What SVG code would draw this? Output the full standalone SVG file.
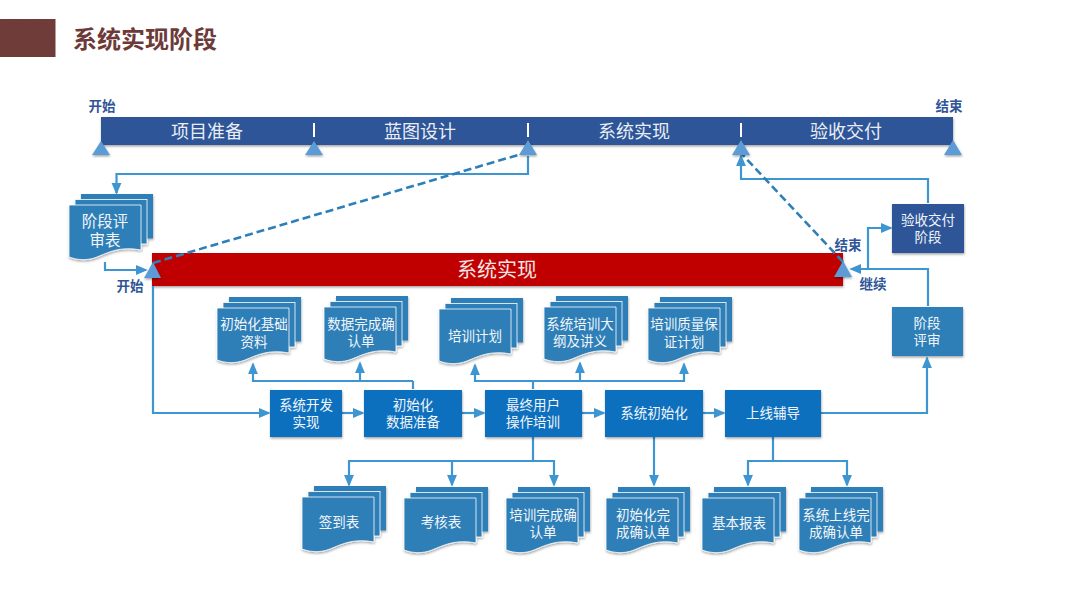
<svg xmlns="http://www.w3.org/2000/svg" xmlns:xlink="http://www.w3.org/1999/xlink" width="1080" height="608" viewBox="0 0 1080 608">
<style>
text{font-family:"Liberation Sans","Noto Sans CJK SC",sans-serif;text-anchor:middle}
.w{fill:#f2f6fa;font-size:13.5px}
.b{fill:#2f5597;font-size:13.5px;font-weight:bold}
.h{fill:#e9eef6;font-size:18px}
.c{fill:none;stroke:#3d95d2;stroke-width:2.2}
.a{fill:none;stroke:#3d95d2;stroke-width:2.2;marker-end:url(#ah)}
.d{fill:none;stroke:#2e7fb8;stroke-width:2.6;stroke-dasharray:8 4}
.t{fill:#5b9bd5;filter:url(#s)}
.box{fill:#0870bf;filter:url(#s)}
</style>
<defs>
<filter id="s" x="-10%" y="-10%" width="125%" height="130%"><feDropShadow dx="0.5" dy="1.5" stdDeviation="1.2" flood-color="#000" flood-opacity="0.35"/></filter>
<marker id="ah" markerWidth="5.500" markerHeight="5" refX="4.700" refY="2.500" orient="auto" markerUnits="strokeWidth" viewBox="0 0 5.500 5"><path d="M0 0.200L5.500 2.500L0 4.800Z" fill="#3d95d2"/></marker>
<pattern id="hatch" width="3" height="3" patternUnits="userSpaceOnUse"><rect width="3" height="3" fill="#6d3a38"/><path d="M0 3L3 0" stroke="#74423f" stroke-width="0.8"/></pattern>
<g id="doc" filter="url(#s)">
<rect x="12" y="0" width="72" height="44.500" fill="#2e7fb8"/>
<rect x="6" y="5.500" width="72" height="44.500" fill="#2e7fb8" stroke="#fff" stroke-width="0.8"/>
<path d="M0 11H72V56C52 52 40 58 28 63C18 67 8 66 0 63Z" fill="#2e7fb8" stroke="#fff" stroke-width="0.8"/>
</g>
</defs>
<rect width="1080" height="608" fill="#fff"/>
<g id="title">
<rect x="0" y="19" width="55.500" height="38" fill="url(#hatch)"/>
<text x="145" y="47.500" style="font-size:24px;font-weight:bold;fill:#6d3a38">系统实现阶段</text>
</g>
<g id="timeline">
<rect x="101" y="117" width="852" height="28" fill="#2f5597" filter="url(#s)"/>
<path d="M314 123V137M528 123V137M741 123V137" stroke="#fff" stroke-width="2"/>
<text class="h" x="207" y="138">项目准备</text>
<text class="h" x="420" y="138">蓝图设计</text>
<text class="h" x="634" y="138">系统实现</text>
<text class="h" x="846" y="138">验收交付</text>
<text class="b" x="102" y="111">开始</text>
<text class="b" x="949" y="111">结束</text>
</g>
<g id="bar">
<rect x="152" y="253" width="691" height="33" fill="#c00000" filter="url(#s)"/>
<text x="497" y="276.500" style="font-size:20px;fill:#f4e6e6">系统实现</text>
<text class="b" x="130" y="291">开始</text>
<text class="b" x="848" y="250">结束</text>
<text class="b" x="873" y="289">继续</text>
</g>
<g id="connectors">
<path class="a" d="M528 156V174H116.500V193"/>
<path class="a" d="M105 262V270H146"/>
<path class="a" d="M153 286V413H269"/>
<path class="a" d="M342 413H363"/>
<path class="a" d="M462 413H484"/>
<path class="a" d="M582 413H604"/>
<path class="a" d="M703 413H724"/>
<path class="a" d="M821 413H927V358"/>
<path class="c" d="M413 389V381"/>
<path class="a" d="M413 381H253V364"/>
<path class="a" d="M360 381V363"/>
<path class="c" d="M533 389V381"/>
<path class="a" d="M533 381H475V365"/>
<path class="a" d="M580 381V363"/>
<path class="a" d="M533 381H684V364"/>
<path class="c" d="M533 437V461"/>
<path class="a" d="M533 461H349V485"/>
<path class="a" d="M452 461V485"/>
<path class="a" d="M533 461H554V485"/>
<path class="a" d="M654 437V485"/>
<path class="c" d="M773 437V461"/>
<path class="a" d="M773 461H748V485"/>
<path class="a" d="M773 461H847V485"/>
<path class="a" d="M928 306V269H851"/>
<path class="a" d="M868 269V228H891"/>
<path class="a" d="M928 203V179H741V156"/>
<path class="d" d="M153 263L528 152"/>
<path class="d" d="M843 262L741 153"/>
</g>
<g id="triangles">
<path class="t" d="M101 141L110 155H92Z"/>
<path class="t" d="M314 141L323 155H305Z"/>
<path class="t" d="M528 140L537 155H519Z"/>
<path class="t" d="M741 140L750 155H732Z"/>
<path class="t" d="M953 140L962 155H944Z"/>
<path class="t" d="M153 262L161 278H144Z"/>
<path class="t" d="M843 261L852 277H834Z"/>
</g>
<g id="n-review-form"><use xlink:href="#doc" href="#doc" x="69" y="194"/><text class="w" x="105" y="227" style="font-size:15.500px">阶段评</text><text class="w" x="105" y="246" style="font-size:15.500px">审表</text></g>
<g id="n-accept"><rect x="892" y="204" width="72" height="49" fill="#2f5597" filter="url(#s)"/><text class="w" x="928" y="225">验收交付</text><text class="w" x="928" y="242">阶段</text></g>
<g id="n-review"><rect x="892" y="307" width="71" height="49" fill="#2e7fb8" filter="url(#s)"/><text class="w" x="927" y="328">阶段</text><text class="w" x="927" y="345">评审</text></g>
<g id="d1"><use xlink:href="#doc" href="#doc" x="217" y="297"/><text class="w" x="254" y="329">初始化基础</text><text class="w" x="254" y="347">资料</text></g>
<g id="d2"><use xlink:href="#doc" href="#doc" x="324" y="296"/><text class="w" x="361" y="329">数据完成确</text><text class="w" x="361" y="346">认单</text></g>
<g id="d3"><use xlink:href="#doc" href="#doc" x="439" y="298"/><text class="w" x="475" y="341">培训计划</text></g>
<g id="d4"><use xlink:href="#doc" href="#doc" x="544" y="296"/><text class="w" x="580" y="329">系统培训大</text><text class="w" x="580" y="346">纲及讲义</text></g>
<g id="d5"><use xlink:href="#doc" href="#doc" x="648" y="297"/><text class="w" x="684" y="329">培训质量保</text><text class="w" x="684" y="347">证计划</text></g>
<g id="p1"><rect class="box" x="270" y="390" width="72" height="47"/><text class="w" x="306" y="410">系统开发</text><text class="w" x="306" y="427">实现</text></g>
<g id="p2"><rect class="box" x="364" y="390" width="98" height="47"/><text class="w" x="413" y="410">初始化</text><text class="w" x="413" y="427">数据准备</text></g>
<g id="p3"><rect class="box" x="485" y="390" width="97" height="47"/><text class="w" x="533" y="410">最终用户</text><text class="w" x="533" y="427">操作培训</text></g>
<g id="p4"><rect class="box" x="605" y="390" width="98" height="47"/><text class="w" x="654" y="418">系统初始化</text></g>
<g id="p5"><rect class="box" x="725" y="390" width="96" height="47"/><text class="w" x="773" y="418">上线辅导</text></g>
<g id="d6"><use xlink:href="#doc" href="#doc" x="302" y="486"/><text class="w" x="339" y="527">签到表</text></g>
<g id="d7"><use xlink:href="#doc" href="#doc" x="404" y="487"/><text class="w" x="441" y="527">考核表</text></g>
<g id="d8"><use xlink:href="#doc" href="#doc" x="506" y="487"/><text class="w" x="543" y="520">培训完成确</text><text class="w" x="543" y="537">认单</text></g>
<g id="d9"><use xlink:href="#doc" href="#doc" x="606" y="487"/><text class="w" x="643" y="520">初始化完</text><text class="w" x="643" y="537">成确认单</text></g>
<g id="d10"><use xlink:href="#doc" href="#doc" x="702" y="487"/><text class="w" x="739" y="528">基本报表</text></g>
<g id="d11"><use xlink:href="#doc" href="#doc" x="799" y="487"/><text class="w" x="836" y="520">系统上线完</text><text class="w" x="836" y="537">成确认单</text></g>
</svg>
